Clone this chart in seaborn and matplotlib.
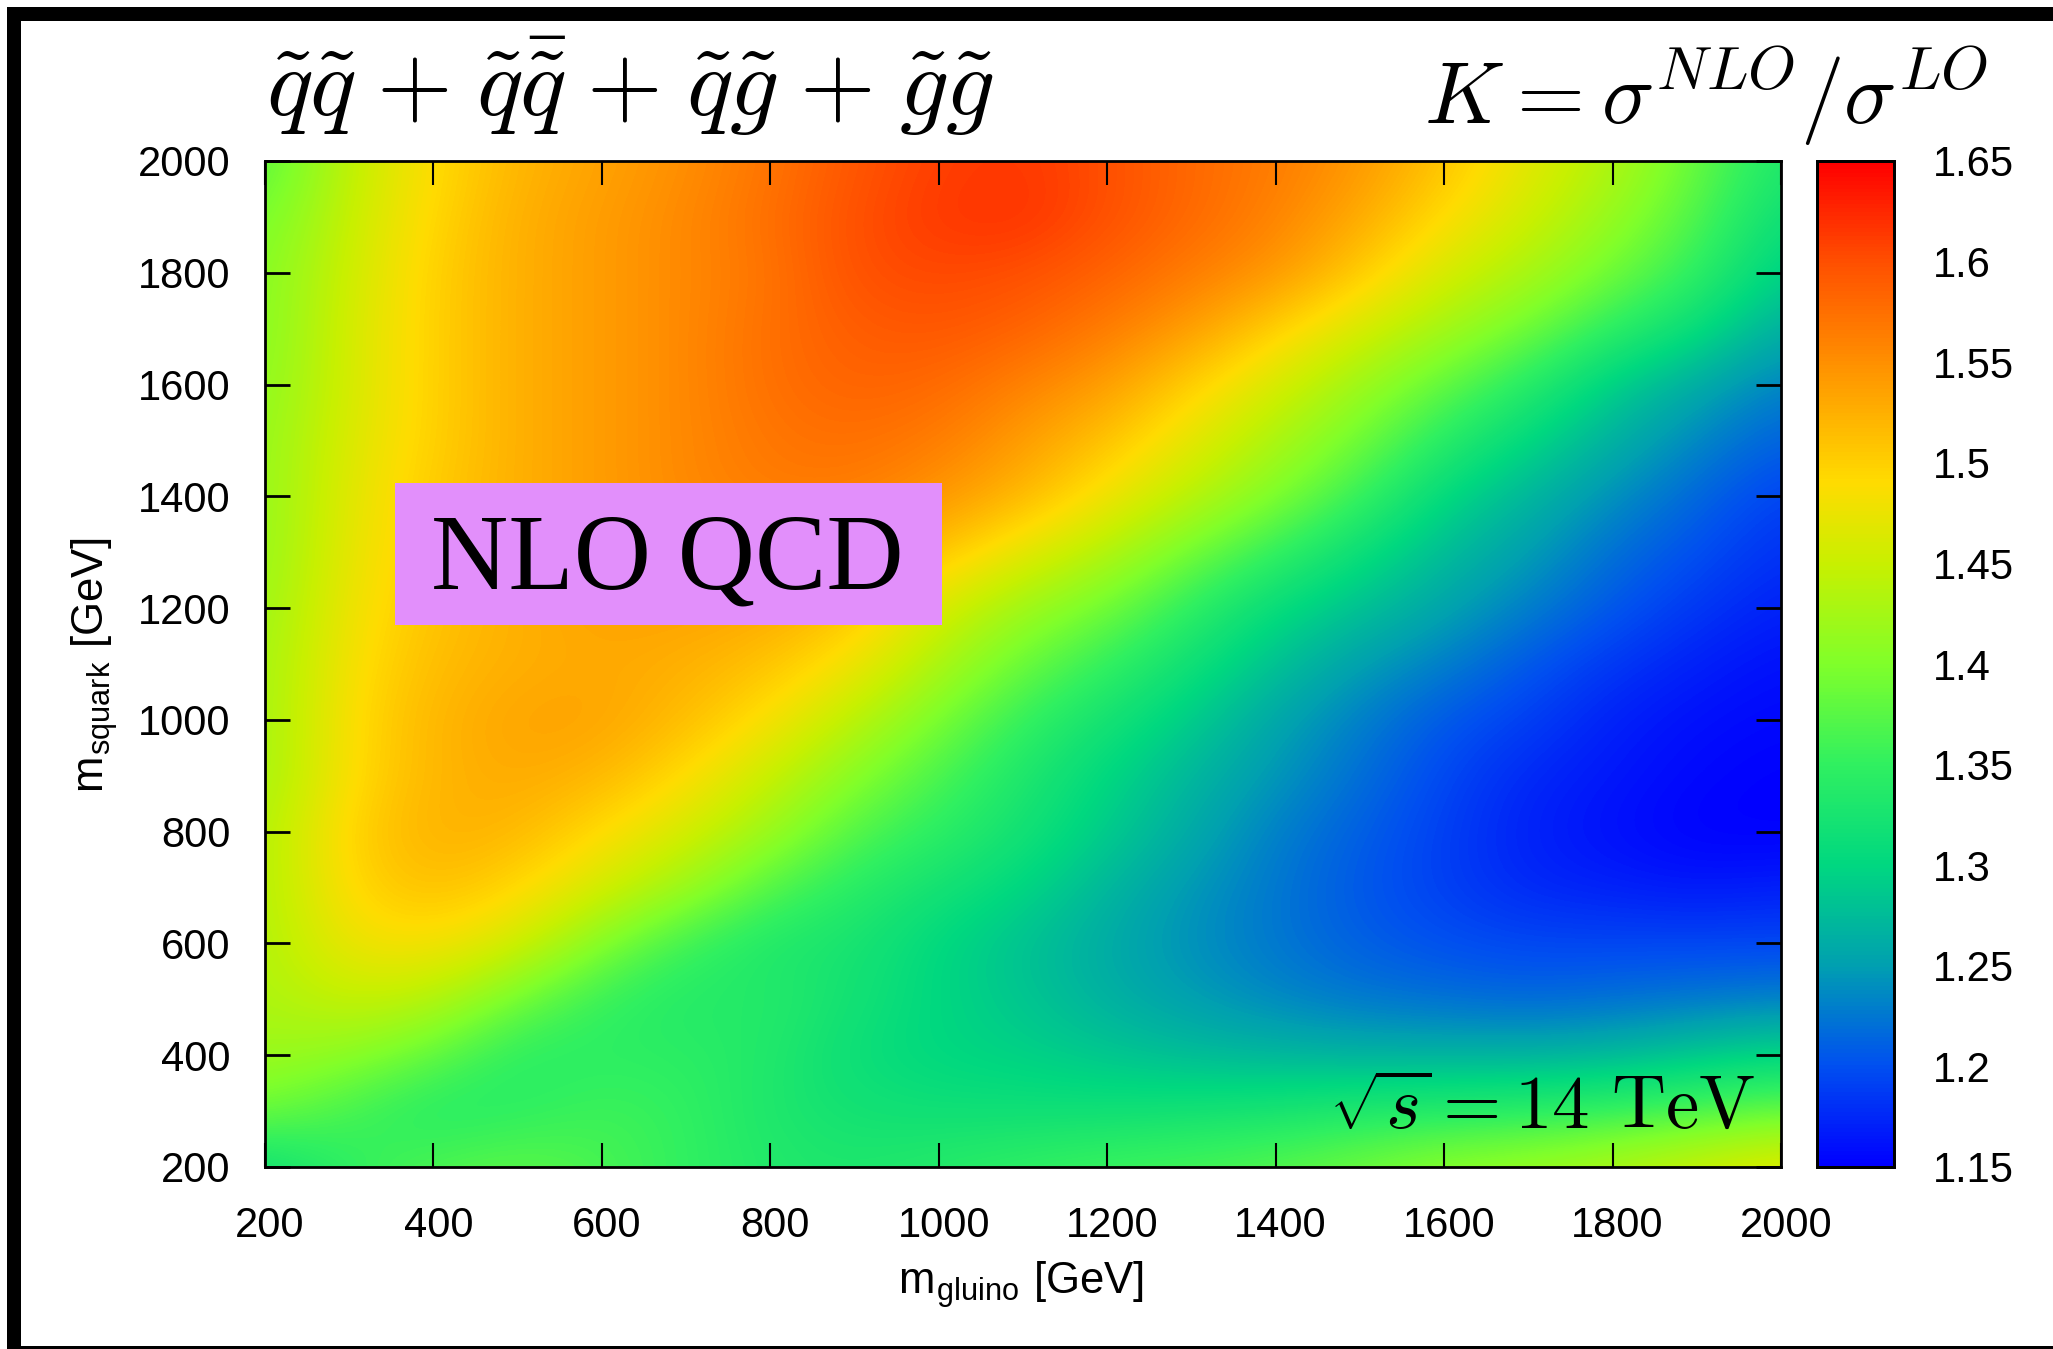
import numpy as np
import pandas as pd
import seaborn as sns
import matplotlib
matplotlib.use('Agg')
import matplotlib.pyplot as plt
from matplotlib.colors import LinearSegmentedColormap
from matplotlib.patches import Rectangle
from matplotlib.transforms import ScaledTranslation

m_gluino = [200 + 100 * i for i in range(19)]
m_squark = [200 + 100 * i for i in range(19)]

# K factor, one row per squark mass, lowest mass first
k_200 = [1.31, 1.35, 1.37, 1.38, 1.365, 1.35, 1.335, 1.33, 1.34, 1.35, 1.36, 1.365, 1.375, 1.39, 1.41, 1.42, 1.435, 1.455, 1.475]
k_300 = [1.39, 1.36, 1.335, 1.345, 1.36, 1.35, 1.33, 1.32, 1.315, 1.315, 1.315, 1.32, 1.325, 1.335, 1.34, 1.345, 1.355, 1.37, 1.385]
k_400 = [1.42, 1.41, 1.38, 1.34, 1.345, 1.345, 1.335, 1.31, 1.30, 1.295, 1.285, 1.275, 1.27, 1.265, 1.265, 1.265, 1.27, 1.285, 1.30]
k_500 = [1.43, 1.45, 1.44, 1.39, 1.35, 1.335, 1.34, 1.32, 1.30, 1.285, 1.265, 1.25, 1.235, 1.225, 1.22, 1.215, 1.22, 1.225, 1.23]
k_600 = [1.43, 1.48, 1.485, 1.46, 1.40, 1.355, 1.33, 1.325, 1.30, 1.28, 1.26, 1.24, 1.225, 1.21, 1.20, 1.195, 1.195, 1.195, 1.195]
k_700 = [1.43, 1.495, 1.515, 1.495, 1.46, 1.42, 1.37, 1.34, 1.32, 1.30, 1.27, 1.245, 1.225, 1.205, 1.19, 1.175, 1.17, 1.165, 1.17]
k_800 = [1.43, 1.50, 1.525, 1.52, 1.49, 1.46, 1.42, 1.37, 1.345, 1.32, 1.29, 1.26, 1.23, 1.21, 1.19, 1.17, 1.16, 1.15, 1.15]
k_900 = [1.42, 1.49, 1.52, 1.53, 1.52, 1.49, 1.45, 1.405, 1.365, 1.33, 1.30, 1.27, 1.245, 1.22, 1.195, 1.175, 1.165, 1.155, 1.15]
k_1000 = [1.42, 1.49, 1.52, 1.535, 1.535, 1.515, 1.485, 1.44, 1.395, 1.35, 1.32, 1.29, 1.255, 1.23, 1.205, 1.19, 1.17, 1.16, 1.155]
k_1100 = [1.42, 1.485, 1.515, 1.525, 1.53, 1.525, 1.51, 1.48, 1.43, 1.385, 1.35, 1.315, 1.28, 1.25, 1.23, 1.205, 1.185, 1.17, 1.16]
k_1200 = [1.415, 1.48, 1.51, 1.525, 1.535, 1.535, 1.53, 1.51, 1.46, 1.42, 1.39, 1.345, 1.305, 1.28, 1.255, 1.23, 1.205, 1.185, 1.17]
k_1300 = [1.41, 1.475, 1.505, 1.525, 1.54, 1.545, 1.545, 1.53, 1.51, 1.47, 1.435, 1.39, 1.35, 1.31, 1.275, 1.25, 1.22, 1.20, 1.18]
k_1400 = [1.41, 1.47, 1.505, 1.525, 1.54, 1.555, 1.565, 1.565, 1.545, 1.52, 1.48, 1.44, 1.40, 1.355, 1.30, 1.27, 1.24, 1.215, 1.19]
k_1500 = [1.41, 1.465, 1.50, 1.525, 1.54, 1.555, 1.57, 1.575, 1.565, 1.54, 1.51, 1.47, 1.43, 1.39, 1.34, 1.30, 1.265, 1.235, 1.21]
k_1600 = [1.405, 1.46, 1.50, 1.525, 1.54, 1.555, 1.575, 1.585, 1.58, 1.56, 1.54, 1.50, 1.46, 1.42, 1.38, 1.34, 1.29, 1.26, 1.23]
k_1700 = [1.40, 1.46, 1.50, 1.525, 1.54, 1.555, 1.575, 1.59, 1.595, 1.585, 1.565, 1.54, 1.50, 1.46, 1.425, 1.39, 1.345, 1.31, 1.26]
k_1800 = [1.40, 1.455, 1.50, 1.525, 1.54, 1.555, 1.57, 1.60, 1.605, 1.60, 1.585, 1.565, 1.545, 1.505, 1.46, 1.43, 1.39, 1.35, 1.29]
k_1900 = [1.39, 1.45, 1.495, 1.525, 1.54, 1.555, 1.575, 1.60, 1.615, 1.62, 1.60, 1.58, 1.56, 1.53, 1.49, 1.455, 1.415, 1.37, 1.31]
k_2000 = [1.37, 1.445, 1.49, 1.52, 1.535, 1.55, 1.57, 1.595, 1.61, 1.615, 1.60, 1.58, 1.565, 1.545, 1.51, 1.47, 1.435, 1.385, 1.33]

k_rows = [k_200, k_300, k_400, k_500, k_600, k_700, k_800, k_900, k_1000, k_1100,
          k_1200, k_1300, k_1400, k_1500, k_1600, k_1700, k_1800, k_1900, k_2000]

axis_ticks = [200, 400, 600, 800, 1000, 1200, 1400, 1600, 1800, 2000]
cbar_ticks = [1.15, 1.2, 1.25, 1.3, 1.35, 1.4, 1.45, 1.5, 1.55, 1.6, 1.65]
cbar_labels = ['1.15', '1.2', '1.25', '1.3', '1.35', '1.4', '1.45', '1.5', '1.55', '1.6', '1.65']

W, H = 2053, 1349
TICK_FS = 30

sns.set_theme(style='white')
plt.rcParams['font.family'] = ['Liberation Sans', 'DejaVu Sans']
plt.rcParams['mathtext.fontset'] = 'cm'

# gnuplot style rainbow, blue at 1.15 up to red at 1.65
k_cmap = LinearSegmentedColormap.from_list('k_rainbow', [
    (0.0, '#0000ff'), (0.1, '#0050f0'), (0.2, '#00a0b0'), (0.3, '#00d880'),
    (0.4, '#30f060'), (0.5, '#80ff2a'), (0.6, '#c8f000'), (0.68, '#ffdc00'),
    (0.7, '#ffd000'), (0.8, '#ff9000'), (0.9, '#ff5000'), (1.0, '#ff0000')], N=256)


def box(x0, y0, x1, y1):
    # pixel box of the picture to figure fractions
    return [x0 / W, 1 - y1 / H, (x1 - x0) / W, (y1 - y0) / H]


def fig_text(x, y, s, **kw):
    fig.text(x / W, 1 - y / H, s, **kw)


fig = plt.figure(figsize=(W / 100, H / 100), dpi=100)
ax = fig.add_axes(box(265, 161, 1781, 1167))
cax = fig.add_axes(box(1817, 161, 1894, 1167))

df = pd.DataFrame(k_rows, index=m_squark, columns=m_gluino)
sns.heatmap(df, ax=ax, cbar_ax=cax, cmap=k_cmap, vmin=1.15, vmax=1.65)

# the same values again, smoothed when drawn so the cells do not show
ax.imshow(df.values, extent=(0, 19, 0, 19), origin='lower', aspect='auto',
          cmap=k_cmap, vmin=1.15, vmax=1.65, interpolation='bicubic', zorder=2)

# cell i sits at i+0.5, so these limits run from 200 to 2000 GeV
ax.set_xlim(0.5, 18.5)
ax.set_ylim(0.5, 18.5)
tick_pos = [(t - 200) / 100 + 0.5 for t in axis_ticks]
ax.set_xticks(tick_pos)
ax.set_xticklabels(axis_ticks, rotation=0)
ax.set_yticks(tick_pos)
ax.set_yticklabels(axis_ticks, rotation=0, va='center_baseline')
ax.set_axisbelow(False)
ax.tick_params(axis='x', direction='in', length=17.5, width=1.5, pad=28, top=True, bottom=True,
               labelsize=TICK_FS, colors='black')
ax.tick_params(axis='y', direction='in', length=18, width=2, pad=25, left=True, right=True,
               labelsize=TICK_FS, colors='black')
ax.set_xlabel('')
ax.set_ylabel('')
# x labels sit a little right of their ticks in the original
shift = ScaledTranslation(5 / 100, 0, fig.dpi_scale_trans)
for lab in ax.get_xticklabels():
    lab.set_transform(lab.get_transform() + shift)
for s in ax.spines.values():
    s.set_visible(True)
    s.set_linewidth(2)
    s.set_color('black')
    s.set_zorder(5)

cax.set_yticks(cbar_ticks)
cax.set_yticklabels(cbar_labels)
cax.tick_params(axis='y', direction='in', length=14, width=2, pad=28, left=True, right=True,
                labelleft=False, labelright=True, labelsize=TICK_FS, colors='black')
for s in cax.spines.values():
    s.set_visible(True)
    s.set_linewidth(2)
    s.set_color('black')

# label patch sits on the map
ax.add_patch(Rectangle((((354 - 200) / 100 + 0.5), ((1170 - 200) / 100 + 0.5)), 6.5, 2.53,
                       facecolor='#e28ffb', edgecolor='none', zorder=4))

fig_text(667, 563, 'NLO QCD', ha='center', va='center', fontsize=77,
         family='Liberation Serif', color='black')
fig_text(266, 116, r'$\tilde{q}\tilde{q}\hspace{0.08}+\hspace{0.08}\tilde{q}\bar{\tilde{q}}\hspace{0.08}+\hspace{0.08}\tilde{q}\tilde{g}\hspace{0.08}+\hspace{0.08}\tilde{g}\tilde{g}$',
         ha='left', va='baseline', fontsize=70, color='black')
fig_text(1988, 124, r'$K\hspace{0.04}=\hspace{0.02}\sigma^{NLO}/\sigma^{LO}$', ha='right', va='baseline',
         fontsize=63, color='black')
fig_text(1755, 1128, r'$\sqrt{s}=14\ \mathrm{TeV}$', ha='right', va='baseline',
         fontsize=54, color='black')
fig_text(1021, 1285, r'm$_{\mathregular{gluino}}$ [GeV]', ha='center', va='center',
         fontsize=31.5, color='black')
fig_text(95, 665, r'm$_{\mathregular{squark}}$ [GeV]', ha='center', va='center',
         rotation=90, fontsize=31.5, color='black')

# heavy black frame on the left, top and bottom of the page
for b in [box(7, 7, 21, H), box(7, 7, W, 21), box(7, 1346, W, H)]:
    fig.add_artist(Rectangle((b[0], b[1]), b[2], b[3], transform=fig.transFigure,
                             facecolor='black', edgecolor='none'))

fig.savefig('out.png', dpi=100)
